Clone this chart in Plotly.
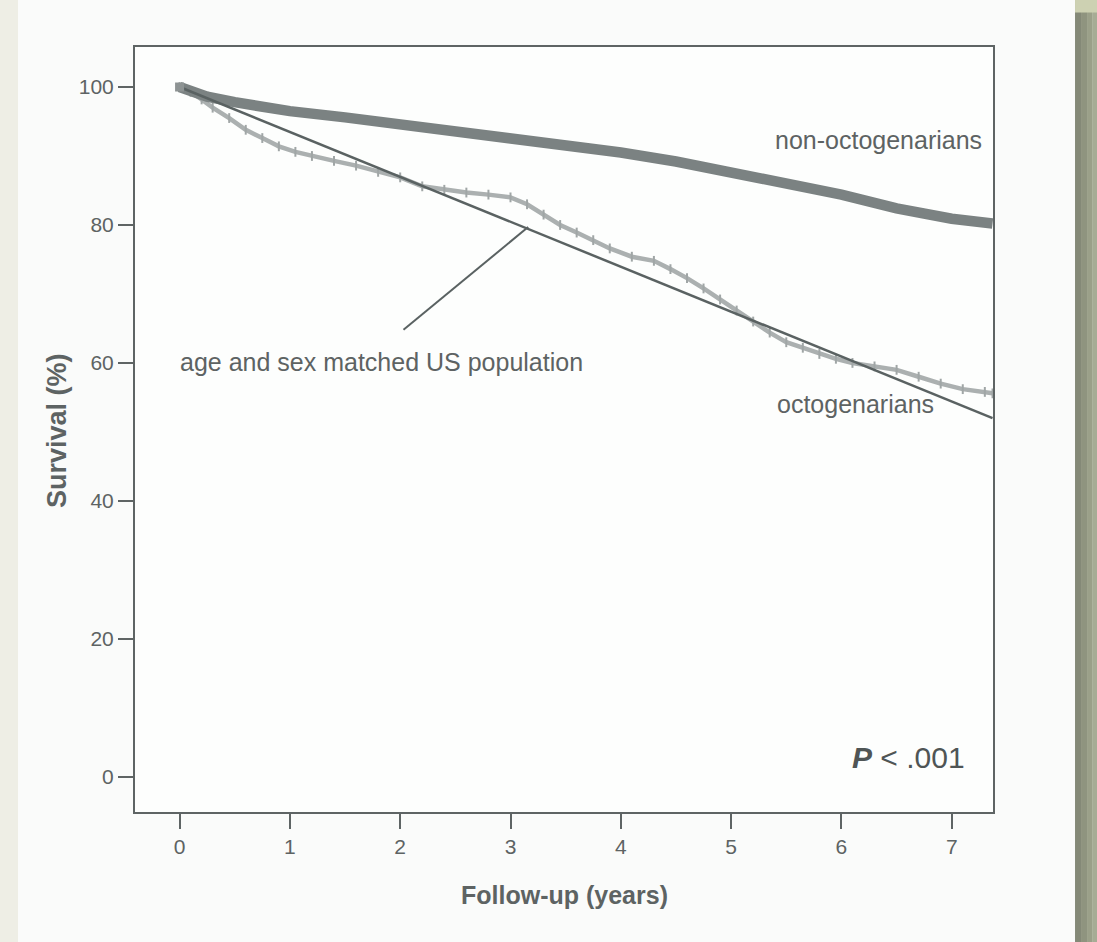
import plotly.graph_objects as go

# ---- data ----
years_ticks = [0, 1, 2, 3, 4, 5, 6, 7]
surv_ticks = [0, 20, 40, 60, 80, 100]

non_oct_x = [0, 0.25, 0.5, 1, 1.5, 2, 2.5, 3, 3.5, 4, 4.5, 5, 5.5, 6, 6.5, 7, 7.37]
non_oct_y = [100, 98.6, 97.8, 96.5, 95.6, 94.6, 93.6, 92.6, 91.6, 90.5, 89.2, 87.7, 86.1, 84.4, 82.4, 80.9, 80.2]

oct_x = [0, 0.1, 0.2, 0.3, 0.45, 0.6, 0.75, 0.9, 1.05, 1.2, 1.4, 1.6, 1.8, 2.0, 2.2, 2.4,
         2.6, 2.8, 3.0, 3.15, 3.3, 3.45, 3.6, 3.75, 3.9, 4.1, 4.3, 4.45, 4.6, 4.75, 4.9,
         5.05, 5.2, 5.35, 5.5, 5.65, 5.8, 5.95, 6.1, 6.3, 6.5, 6.7, 6.9, 7.1, 7.3, 7.37]
oct_y = [100, 99.3, 98.2, 97.0, 95.5, 93.8, 92.6, 91.4, 90.6, 90.0, 89.3, 88.6, 87.7, 86.9,
         85.6, 85.1, 84.7, 84.4, 84.0, 83.0, 81.5, 80.0, 78.9, 77.8, 76.6, 75.4, 74.8, 73.6,
         72.3, 70.8, 69.2, 67.6, 66.0, 64.4, 63.0, 62.2, 61.3, 60.6, 60.0, 59.5, 59.0, 58.0,
         57.0, 56.2, 55.8, 55.6]

us_x = [0, 1, 2, 3, 4, 5, 6, 7, 7.37]
us_y = [100, 93.5, 87.0, 80.5, 74.0, 67.5, 61.0, 54.5, 52.0]

labels = {
    "non": "non-octogenarians",
    "oct": "octogenarians",
    "us": "age and sex matched US population",
}
p_text = "<b><i>P</i></b> < .001"
x_title = "Follow-up (years)"
y_title = "Survival (%)"

# ---- styling ----
FONT = "Liberation Sans, Arial, Helvetica, sans-serif"
TXT = "#5d6363"
AX = "#5e6464"

fig = go.Figure()

fig.add_trace(go.Scatter(
    x=oct_x, y=oct_y, mode="lines+markers", line=dict(color="#abb0b0", width=4.5, shape="linear"),
    marker=dict(symbol="line-ns", size=7, line=dict(color="#a0a6a6", width=2)),
    showlegend=False, hoverinfo="skip"))
fig.add_trace(go.Scatter(
    x=non_oct_x, y=non_oct_y, mode="lines", line=dict(color="#7b8282", width=10.5),
    showlegend=False, hoverinfo="skip"))
fig.add_trace(go.Scatter(
    x=us_x, y=us_y, mode="lines", line=dict(color="#5a6262", width=2.5),
    showlegend=False, hoverinfo="skip"))
fig.add_trace(go.Scatter(
    x=[oct_x[0]], y=[oct_y[0]], mode="markers",
    marker=dict(symbol="square", size=9, color="#8d9393"),
    showlegend=False, hoverinfo="skip"))

# pointer line from label to curve
fig.add_shape(type="line", xref="x", yref="y", x0=2.03, y0=64.8, x1=3.16, y1=79.7,
              line=dict(color="#5a6262", width=2))

# background strips (scan edges)
strips = [
    (-0.20, -0.1364, "#eeeee5"),
    (1.0956, 1.1026, "#848977"),
    (1.1026, 1.1096, "#8f947f"),
    (1.1096, 1.1155, "#9ba089"),
    (1.1155, 1.14, "#a7ac95"),
]
for x0, x1, c in strips:
    fig.add_shape(type="rect", xref="paper", yref="paper", x0=x0, x1=x1, y0=-0.2, y1=1.1,
                  fillcolor=c, line=dict(width=0), layer="below")
fig.add_shape(type="rect", xref="paper", yref="paper", x0=1.0956, x1=1.14, y0=1.045, y1=1.1,
              fillcolor="#cdd1b2", line=dict(width=0), layer="below")

ann_font = dict(family=FONT, size=25, color=TXT)
fig.add_annotation(x=5.38, y=92.3, xref="x", yref="y", text=labels["non"], showarrow=False,
                   xanchor="left", yanchor="middle", font=ann_font)
fig.add_annotation(x=5.40, y=54.1, xref="x", yref="y", text=labels["oct"], showarrow=False,
                   xanchor="left", yanchor="middle", font=ann_font)
fig.add_annotation(x=-0.015, y=60.1, xref="x", yref="y", text=labels["us"], showarrow=False,
                   xanchor="left", yanchor="middle", font=ann_font)
fig.add_annotation(x=7.14, y=2.75, xref="x", yref="y", text=p_text, showarrow=False,
                   xanchor="right", yanchor="middle", font=dict(family=FONT, size=30, color="#4f5555"))

fig.add_annotation(x=0.501, y=-0.1085, xref="paper", yref="paper", text="<b>" + x_title + "</b>",
                   showarrow=False, xanchor="center", yanchor="middle",
                   font=dict(family=FONT, size=25, color=TXT))
fig.add_annotation(x=-0.0909, y=0.498, xref="paper", yref="paper", text="<b>" + y_title + "</b>",
                   showarrow=False, xanchor="center", yanchor="middle", textangle=-90,
                   font=dict(family=FONT, size=27, color=TXT))

fig.update_xaxes(range=[-0.404, 7.374], tickvals=years_ticks, ticktext=[str(v) for v in years_ticks],
                 showgrid=False, zeroline=False, showline=True, mirror=True, linecolor=AX, linewidth=2,
                 ticks="outside", ticklen=15, tickwidth=2, tickcolor=AX,
                 tickfont=dict(family=FONT, size=21, color=TXT))
fig.update_yaxes(range=[-5.1, 105.8], tickvals=surv_ticks, ticktext=[str(v) for v in surv_ticks],
                 showgrid=False, zeroline=False, showline=True, mirror=True, linecolor=AX, linewidth=2,
                 ticks="outside", ticklen=15, tickwidth=2, tickcolor=AX,
                 tickfont=dict(family=FONT, size=21, color=TXT))

fig.update_layout(width=1097, height=942, margin=dict(l=135, r=104, t=47, b=130, autoexpand=False),
                  paper_bgcolor="#fafbfa", plot_bgcolor="#fdfefd", showlegend=False)

fig.write_html("out.html", config={"displayModeBar": False},
               post_script="document.body.style.margin='0';document.body.style.overflow='hidden';"
                           "document.body.style.background='#fafbfa';")
